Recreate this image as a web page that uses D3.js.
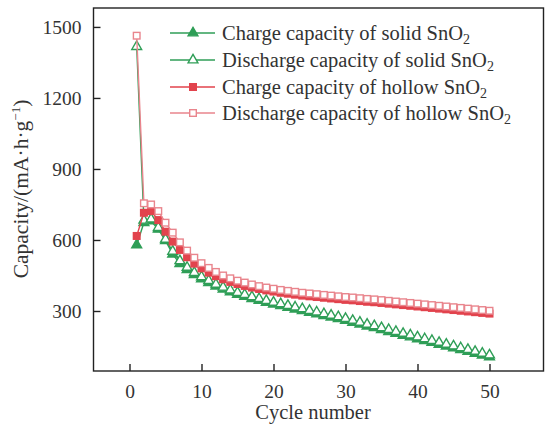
<!DOCTYPE html>
<html><head><meta charset="utf-8">
<script src="https://cdn.jsdelivr.net/npm/d3@7"></script>
<style>body{margin:0;background:#fff}svg{display:block}</style>
</head><body>
<svg id="c" width="545" height="425"></svg>
<script>
const cycles = d3.range(1, 51);
const solidCharge = [579,673,680,645,597,540,500,474,453,435,419,405,392,380,370,361,352,344,336,329,322,315,308,301,294,287,280,274,267,260,252,244,236,229,221,213,205,197,190,182,174,167,159,151,144,136,129,121,113,106];
const solidDischarge = [1417,683,688,652,603,552,512,484,462,444,428,413,400,388,378,369,360,352,344,337,330,323,316,309,302,295,288,282,275,268,260,252,244,237,229,221,213,205,198,190,182,175,167,159,152,144,137,129,121,114];
const hollowCharge = [617,715,722,684,635,593,558,527,500,480,462,447,434,423,414,406,399,393,387,382,377,373,369,365,362,359,356,353,350,347,345,342,339,337,334,331,328,325,322,319,316,313,310,307,304,301,298,295,292,289];
const hollowDischarge = [1463,755,750,722,673,631,590,555,525,502,482,465,450,438,428,420,412,405,399,394,389,385,381,377,374,371,368,365,362,359,357,354,351,349,346,343,340,337,334,331,328,325,322,319,316,313,310,307,304,301];
const xTicks = [0,10,20,30,40,50];
const yTicks = [300,600,900,1200,1500];
const seriesNames = ["Charge capacity of solid SnO", "Discharge capacity of solid SnO", "Charge capacity of hollow SnO", "Discharge capacity of hollow SnO"];

const green = "#2f9e57", red = "#e2434d", pink = "#e9858d";
const series = [
  {name: seriesNames[0], values: solidCharge, color: green, shape: "tri", fill: green},
  {name: seriesNames[1], values: solidDischarge, color: green, shape: "tri", fill: "#fff"},
  {name: seriesNames[2], values: hollowCharge, color: red, shape: "sq", fill: red},
  {name: seriesNames[3], values: hollowDischarge, color: pink, shape: "sq", fill: "#fff"}
];

const svg = d3.select("#c");
const x = d3.scaleLinear().domain([-5, 57.5]).range([93.5, 543.5]);
const y = d3.scaleLinear().domain([46.5, 1580]).range([371, 8]);
const font = "'Liberation Serif','Times New Roman',serif";

function marker(g, s, cx, cy) {
  if (s.shape === "tri") {
    g.append("path").attr("d", d3.symbol(d3.symbolTriangle, 42)())
      .attr("transform", `translate(${cx},${cy})`)
      .attr("fill", s.fill).attr("stroke", s.color).attr("stroke-width", 1.4);
  } else {
    g.append("rect").attr("x", cx - 3.3).attr("y", cy - 3.3).attr("width", 6.6).attr("height", 6.6)
      .attr("fill", s.fill).attr("stroke", s.color).attr("stroke-width", 1.4);
  }
}

// frame
svg.append("rect").attr("x", 93.5).attr("y", 8).attr("width", 450).attr("height", 363)
  .attr("fill", "none").attr("stroke", "#222").attr("stroke-width", 1.4);

// axes
const xAxis = d3.axisBottom(x).tickValues(xTicks).tickFormat(d3.format("d")).tickSizeInner(-7).tickSizeOuter(0).tickPadding(13);
const gx = svg.append("g").attr("transform", "translate(0,371)").call(xAxis);
gx.select(".domain").remove();
gx.selectAll("line").attr("stroke", "#222").attr("stroke-width", 1.4);
gx.selectAll("text").attr("font-family", font).attr("font-size", 19.5).attr("fill", "#333");

const yAxis = d3.axisLeft(y).tickValues(yTicks).tickFormat(d3.format("d")).tickSizeInner(-7).tickSizeOuter(0).tickPadding(12);
const gy = svg.append("g").attr("transform", "translate(93.5,0)").call(yAxis);
gy.select(".domain").remove();
gy.selectAll("line").attr("stroke", "#222").attr("stroke-width", 1.4);
gy.selectAll("text").attr("font-family", font).attr("font-size", 19.5).attr("fill", "#333");

// axis titles
svg.append("text").attr("x", 313).attr("y", 419).attr("text-anchor", "middle")
  .attr("font-family", font).attr("font-size", 20.5).attr("fill", "#333").text("Cycle number");
const yt = svg.append("text").attr("transform", "translate(28,189) rotate(-90)").attr("text-anchor", "middle")
  .attr("font-family", font).attr("font-size", 21.5).attr("fill", "#333");
yt.append("tspan").text("Capacity/(mA·h·g");
yt.append("tspan").attr("dy", -8).attr("font-size", 13).text("−1");
yt.append("tspan").attr("dy", 8).text(")");

// data
const line = d3.line().x((d, i) => x(cycles[i])).y(d => y(d));
series.forEach(s => {
  const g = svg.append("g");
  g.append("path").datum(s.values).attr("d", line).attr("fill", "none")
    .attr("stroke", s.color).attr("stroke-width", 1.4);
  s.values.forEach((v, i) => marker(g, s, x(cycles[i]), y(v)));
});

// legend
const legY = [33, 60, 87, 113];
series.forEach((s, i) => {
  const g = svg.append("g");
  g.append("line").attr("x1", 170).attr("x2", 215).attr("y1", legY[i]).attr("y2", legY[i])
    .attr("stroke", s.color).attr("stroke-width", 1.6);
  marker(g, s, 193, legY[i]);
  const t = g.append("text").attr("x", 222).attr("y", legY[i] + 6.5)
    .attr("font-family", font).attr("font-size", 20.5).attr("fill", "#333");
  t.append("tspan").text(s.name);
  t.append("tspan").attr("dy", 4).attr("font-size", 14).text("2");
});
</script>
</body></html>
